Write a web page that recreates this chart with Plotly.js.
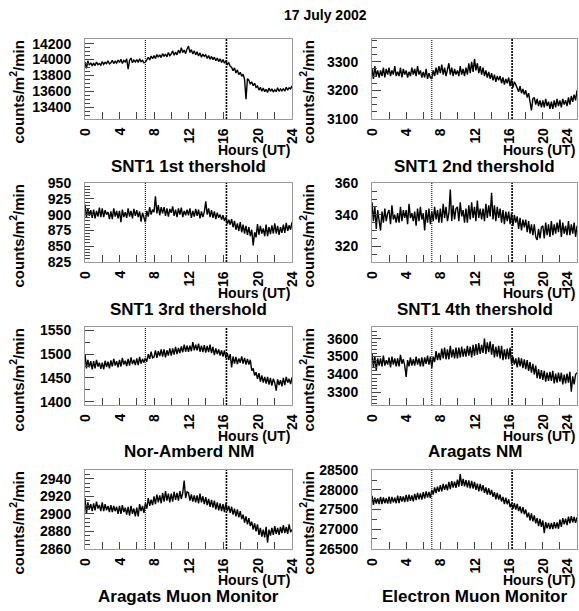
<!DOCTYPE html>
<html>
<head>
<meta charset="utf-8">
<script src="https://cdn.plot.ly/plotly-3.0.1.min.js"></script>
<style>html,body{margin:0;padding:0;background:#fff;}#chart{width:579px;height:611px;}</style>
</head>
<body>
<div id="chart"></div>
<script>
// ---- data (10-minute samples, 0..24 h UT) ----
const chartTitle = "17 July 2002";
const panelNames = ["SNT1 1st thershold","SNT1 2nd thershold","SNT1 3rd thershold","SNT1 4th thershold",
                    "Nor-Amberd NM","Aragats NM","Aragats Muon Monitor","Electron Muon Monitor"];
const eventHours = [7.0, 16.4];
const xTickLabels = ["0","4","8","12","16","20","24"];

const snt1First = [
13970,13890,13985,13930,13960,13920, 13955,13925,13970,13935,13950,13930, 13975,13940,13965,13950,13985,13945,
13960,13990,13950,13980,13955,13995, 13965,14005,13950,13990,13970,14010, 13880,13990,14020,13960,13995,13970,
14000,13965,14010,13975,13990,13960, 13965,14000,14030,13995,14045,14010, 14050,14015,14065,14030,14060,14025,
14075,14040,14070,14035,14090,14050, 14070,14110,14055,14095,14060,14120, 14080,14150,14090,14120,14075,14135,
14170,14090,14125,14070,14110,14060, 14100,14045,14085,14030,14070,14040, 14060,14015,14050,14005,14040,14000,
14030,13985,14020,13975,14010,13965, 14000,13955,13985,13940,13960,13915, 13905,13860,13895,13830,13870,13810,
13840,13790,13815,13750,13500,13760, 13740,13690,13720,13670,13700,13650, 13665,13615,13650,13600,13640,13595,
13625,13585,13640,13600,13630,13590, 13620,13595,13645,13600,13630,13605, 13635,13600,13650,13615,13645,13630,
13670];
const snt1Second = [
3275,3240,3285,3250,3270,3245, 3270,3250,3280,3245,3275,3255, 3280,3250,3270,3255,3285,3250,
3265,3250,3280,3245,3275,3255, 3270,3245,3265,3250,3280,3255, 3275,3250,3285,3255,3270,3245,
3265,3245,3275,3240,3260,3245, 3240,3270,3250,3280,3255,3285, 3260,3290,3255,3280,3250,3275,
3295,3255,3280,3250,3275,3255, 3270,3250,3285,3255,3275,3250, 3280,3255,3295,3260,3300,3265,
3310,3270,3295,3260,3285,3255, 3280,3250,3270,3245,3265,3240, 3260,3235,3255,3230,3250,3235,
3250,3225,3245,3220,3240,3225, 3245,3215,3240,3210,3230,3220, 3210,3195,3215,3190,3205,3185,
3200,3175,3190,3165,3130,3170, 3175,3150,3170,3145,3165,3140, 3165,3140,3170,3145,3160,3135,
3160,3135,3165,3140,3170,3145, 3165,3140,3170,3150,3165,3145, 3175,3150,3180,3160,3185,3165,
3200];
const snt1Third = [
916,896,910,898,907,895, 908,894,906,897,911,896, 910,896,907,900,904,893,
905,893,910,897,906,894, 906,888,908,896,904,895, 910,897,906,894,909,898,
907,896,905,889,903,895, 888,906,897,912,900,908, 904,929,902,915,899,912,
902,912,898,910,897,909, 903,913,898,908,896,910, 900,911,896,906,899,908,
899,910,895,906,897,909, 898,908,894,905,896,904, 921,900,910,896,907,895,
905,893,903,895,900,892, 899,890,896,885,892,884, 893,880,890,876,886,874,
888,872,884,870,882,868, 880,866,876,851,872,864, 885,868,882,870,878,866,
884,866,880,869,883,870, 886,870,882,868,880,871, 884,871,887,874,883,876,
888];
const snt1Fourth = [
348,336,345,331,343,337, 330,342,335,344,336,341, 343,334,346,337,340,335,
341,335,345,336,343,338, 343,334,347,338,341,336, 342,333,344,336,345,337,
341,330,343,335,344,334, 342,336,345,337,343,335, 344,335,347,338,345,336,
341,356,336,346,337,344, 345,336,348,339,343,335, 344,335,346,337,348,338,
345,336,349,338,344,337, 344,336,347,338,346,339, 354,337,346,336,345,338,
344,335,343,334,342,336, 342,334,341,333,340,335, 339,331,338,330,337,332,
337,329,336,328,334,327, 334,326,324,331,325,332, 333,325,335,327,334,326,
336,327,334,328,335,329, 337,326,335,328,333,327, 336,327,334,328,335,326,
333];
const norAmberdNM = [
1500,1470,1488,1472,1485,1468, 1485,1470,1488,1474,1482,1469, 1482,1468,1486,1473,1484,1470,
1487,1474,1490,1476,1485,1472, 1488,1474,1492,1478,1486,1475, 1490,1476,1493,1479,1488,1477,
1491,1477,1494,1480,1490,1482, 1492,1484,1500,1490,1505,1492, 1494,1508,1492,1506,1496,1510,
1495,1510,1493,1508,1497,1512, 1497,1512,1499,1515,1500,1513, 1502,1516,1504,1520,1505,1518,
1505,1518,1506,1525,1508,1520, 1508,1522,1505,1518,1504,1519, 1503,1517,1504,1520,1502,1515,
1498,1512,1500,1510,1497,1508, 1495,1508,1492,1502,1488,1500, 1472,1495,1480,1494,1479,1491,
1482,1495,1480,1492,1478,1490, 1478,1488,1465,1470,1455,1462, 1448,1460,1442,1455,1440,1452,
1438,1452,1436,1450,1434,1448, 1440,1423,1447,1435,1445,1432, 1450,1435,1452,1440,1448,1437,
1451];
const aragatsNM = [
3520,3440,3500,3424,3490,3450, 3490,3445,3505,3450,3480,3455, 3495,3440,3500,3455,3490,3445,
3490,3445,3510,3460,3485,3450, 3387,3480,3445,3495,3450,3485, 3450,3500,3455,3490,3445,3495,
3445,3495,3460,3505,3455,3500, 3437,3500,3470,3530,3480,3520, 3480,3545,3490,3550,3485,3540,
3485,3560,3495,3540,3490,3550, 3490,3550,3495,3555,3500,3545, 3500,3560,3505,3555,3495,3565,
3505,3570,3510,3575,3515,3565, 3520,3600,3515,3580,3525,3585, 3510,3570,3495,3555,3500,3560,
3490,3560,3480,3540,3485,3545, 3485,3550,3460,3500,3455,3490, 3440,3495,3445,3490,3435,3485,
3430,3480,3420,3470,3410,3460, 3400,3450,3380,3430,3375,3425, 3370,3420,3360,3410,3365,3415,
3365,3420,3350,3405,3355,3410, 3360,3410,3345,3400,3350,3405, 3355,3415,3304,3390,3345,3400,
3410];
const aragatsMuon = [
2918,2900,2913,2905,2911,2903, 2912,2904,2914,2906,2910,2903, 2913,2903,2911,2904,2909,2902,
2910,2902,2909,2903,2908,2900, 2909,2900,2910,2902,2907,2899, 2908,2898,2909,2900,2906,2897,
2907,2897,2911,2903,2909,2901, 2912,2906,2918,2909,2916,2910, 2920,2911,2922,2913,2921,2912,
2924,2914,2926,2915,2923,2913, 2923,2914,2925,2916,2924,2915, 2926,2917,2924,2938,2918,2925,
2924,2915,2922,2914,2921,2913, 2921,2912,2923,2913,2920,2911, 2919,2910,2917,2908,2916,2907,
2915,2905,2913,2904,2912,2903, 2911,2902,2912,2903,2909,2901, 2908,2899,2906,2897,2905,2896,
2903,2894,2899,2890,2897,2888, 2895,2886,2891,2882,2889,2880, 2888,2876,2884,2874,2882,2873,
2885,2867,2882,2875,2884,2876, 2886,2877,2884,2876,2885,2878, 2887,2878,2885,2877,2888,2879,
2882];
const electronMuon = [
27850,27620,27800,27650,27780,27640, 27820,27640,27810,27660,27790,27650, 27830,27650,27820,27680,27800,27660,
27850,27660,27840,27700,27830,27690, 27870,27700,27880,27720,27860,27710, 27900,27740,27920,27760,27910,27750,
27940,27780,27960,27800,27950,27790, 28000,27880,28060,27920,28080,27950, 28120,27960,28150,28000,28140,27990,
28200,28020,28220,28060,28210,28050, 28260,28080,28400,28100,28280,28090, 28250,28060,28240,28040,28230,28030,
28200,28000,28160,27960,28150,27970, 28120,27920,28060,27880,28040,27870, 28000,27820,27940,27760,27920,27750,
27880,27700,27820,27640,27800,27630, 27760,27560,27650,27520,27660,27500, 27640,27460,27580,27400,27560,27380,
27500,27300,27420,27220,27400,27200, 27350,27150,27280,27080,27260,27060, 27220,26900,27180,27020,27160,27000,
27160,27000,27180,27020,27170,27010, 27240,27060,27280,27120,27270,27100, 27320,27150,27330,27170,27310,27160,
27300];
const timeHours = snt1First.map((_, i) => i / 6);

const seriesList = [snt1First, snt1Second, snt1Third, snt1Fourth, norAmberdNM, aragatsNM, aragatsMuon, electronMuon];

// ---- layout (pixel geometry) ----
const W = 579, H = 611;
const colX = [[85, 292], [372, 577]];
const rowY = [[39, 119], [183, 262], [327, 405], [470, 549]];
const yRanges = [[13250,14260],[3099.5,3380],[824.8,950.2],[310,360.2],[1393,1557],[3230,3665],[2859.8,2950],[26495,28505]];
const yDticks = [200,100,25,20,50,100,20,500];
const yMinor = [50,25,5,5,25,20,5,250];
const yTitleX = [17, 307];

const fontFam = "Liberation Sans, Arial, sans-serif";
const boldFont = (size) => ({family: fontFam, size: size, color: "#000", weight: 700});

const traces = [];
const layout = {
  width: W, height: H, margin: {l:0, r:0, t:0, b:0},
  paper_bgcolor: "#fff", plot_bgcolor: "#fff", showlegend: false,
  shapes: [], annotations: []
};
const tickAnnIdx = [];

seriesList.forEach((vals, k) => {
  const c = k % 2, r = Math.floor(k / 2);
  const sx = k === 0 ? "" : String(k + 1);
  const [x0, x1] = colX[c], [y0, y1] = rowY[r];
  traces.push({x: timeHours, y: vals, type: "scatter", mode: "lines",
    line: {color: "#000", width: 1.4}, xaxis: "x" + sx, yaxis: "y" + sx, hoverinfo: "skip"});
  layout["xaxis" + sx] = {
    domain: [x0 / W, x1 / W], anchor: "y" + sx, range: [0, 24],
    tickmode: "array", tickvals: xTickLabels.map(Number), showticklabels: false,
    ticks: "inside", ticklen: 7, tickcolor: "#444", tickwidth: 1,
    minor: {dtick: 2, ticks: "inside", ticklen: 7, tickcolor: "#444"},
    showline: true, linecolor: "#999", linewidth: 1, mirror: true,
    showgrid: false, zeroline: false, fixedrange: true
  };
  layout["yaxis" + sx] = {
    domain: [1 - y1 / H, 1 - y0 / H], anchor: "x" + sx, range: yRanges[k],
    dtick: yDticks[k], tick0: 0, tickformat: "d", ticks: "inside", ticklen: 9, tickcolor: "#444", tickwidth: 1,
    minor: {dtick: yMinor[k], ticks: "inside", ticklen: 5, tickcolor: "#444"},
    ticklabelstandoff: 10,
    showline: true, linecolor: "#999", linewidth: 1, mirror: true,
    showgrid: false, zeroline: false, tickfont: boldFont(14), fixedrange: true
  };
  eventHours.forEach((h, j) => {
    layout.shapes.push({type: "line", xref: "x" + sx, yref: "y" + sx + " domain",
      x0: h, x1: h, y0: 0, y1: 1,
      line: {color: j === 0 ? "#222" : "#000", width: j === 0 ? 1.2 : 1.6, dash: j === 0 ? "1px,1px" : "2px,1px"}});
  });
  // rotated x tick labels, placed on the x scale
  xTickLabels.forEach((lbl, i) => {
    const last = (c === 1 && i === xTickLabels.length - 1);
    tickAnnIdx.push(layout.annotations.length);
    layout.annotations.push({xref: "x" + sx, yref: "paper", x: Number(lbl), y: 1 - (y1 + 7) / H,
      xanchor: last ? "right" : "center", yanchor: "top", showarrow: false, textangle: -90,
      text: lbl, font: boldFont(14)});
  });
  layout.annotations.push({xref: "paper", yref: "paper", x: x1 / W, y: 1 - (y1 + 31) / H,
    xanchor: "right", yanchor: "middle", showarrow: false, text: "Hours (UT)", font: boldFont(14)});
  layout.annotations.push({xref: "paper", yref: "paper", x: (x0 + x1) / 2 / W, y: 1 - (y1 + 47) / H,
    xanchor: "center", yanchor: "middle", showarrow: false, text: panelNames[k], font: boldFont(17)});
  layout.annotations.push({xref: "paper", yref: "paper", x: yTitleX[c] / W, y: 1 - y0 / H,
    xanchor: "center", yanchor: "top", showarrow: false, textangle: -90,
    text: "counts/m<sup>2</sup>/min", font: boldFont(15)});
});

layout.annotations.push({xref: "paper", yref: "paper", x: 325 / W, y: 1 - 15 / H,
  xanchor: "center", yanchor: "middle", showarrow: false, text: chartTitle, font: boldFont(14)});

Plotly.newPlot("chart", traces, layout, {displayModeBar: false, staticPlot: true}).then(gd => {
  // safety net: if a tick label annotation ended up unrotated, turn it on its side in place
  const anns = gd.querySelectorAll("g.annotation");
  const svgRect = gd.querySelector("svg.main-svg").getBoundingClientRect();
  tickAnnIdx.forEach(idx => {
    const a = anns[idx];
    if (!a) return;
    const t = a.querySelector("text");
    if (!t) return;
    const m = t.getScreenCTM();
    if (m && Math.abs(m.b) > 0.5) return; // already rotated
    const r = t.getBoundingClientRect();
    const cx = r.left - svgRect.left + r.width / 2;
    const cy = r.top - svgRect.top + r.height / 2;
    const dy = r.width / 2 - r.height / 2;
    const prev = a.getAttribute("transform") || "";
    a.setAttribute("transform", "translate(0," + dy + ") rotate(-90," + cx + "," + cy + ") " + prev);
  });
});
</script>
</body>
</html>
